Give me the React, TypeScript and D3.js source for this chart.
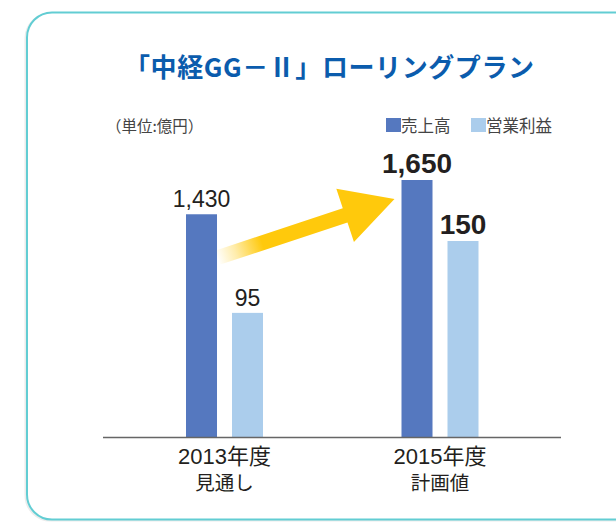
import React from "react";
import * as d3 from "d3";

const categories = ["2013", "2015"];
const categoryLine1 = ["2013年度", "2015年度"];
const categoryLine2 = ["見通し", "計画値"];
const seriesNames = ["売上高", "営業利益"];
const salesValues = [1430, 1650];
const profitValues = [95, 150];
const salesLabels = ["1,430", "1,650"];
const profitLabels = ["95", "150"];
const boldLabel = [false, true];

const W = 616;
const H = 522;
const baseY = 437;
const FONT = "'Liberation Sans', Arial, 'Noto Sans CJK JP', sans-serif";
const CJK = "'Noto Sans CJK JP', sans-serif";

export default function App() {
  const xGroup = d3.scalePoint<string>().domain(categories).range([224.5, 440]);
  const xInner = d3
    .scaleBand<string>()
    .domain(["sales", "profit"])
    .range([-38.5, 38.5])
    .paddingInner(0.326)
    .paddingOuter(0);
  const ySales = d3.scaleLinear().domain([0, 1650]).range([baseY, 180]);
  const yProfit = d3.scaleLinear().domain([0, 150]).range([baseY, 241]);
  const bw = xInner.bandwidth();
  const colSales = "#5578bf";
  const colProfit = "#abcdec";

  // arrow from 2013 sales bar to 2015 sales bar
  const sx = (xGroup("2013") as number) + (xInner("sales") as number) + bw + 1;
  const sy = 257.5;
  const tx = (xGroup("2015") as number) + (xInner("sales") as number) - 7;
  const ty = 199;
  const L = Math.hypot(tx - sx, ty - sy);
  const ux = (tx - sx) / L;
  const uy = (ty - sy) / L;
  const nx = -uy;
  const ny = ux;
  const shaftHW = 7.5;
  const headLen = 52;
  const headHW = 28;
  const bx = tx - headLen * ux;
  const by = ty - headLen * uy;
  const pts: [number, number][] = [
    [sx + shaftHW * nx, sy + shaftHW * ny],
    [bx + shaftHW * nx, by + shaftHW * ny],
    [bx + headHW * nx, by + headHW * ny],
    [tx, ty],
    [bx - headHW * nx, by - headHW * ny],
    [bx - shaftHW * nx, by - shaftHW * ny],
    [sx - shaftHW * nx, sy - shaftHW * ny],
  ];
  const arrowPath = d3.line()(pts) + "Z";

  return (
    <svg
      width={W}
      height={H}
      style={{ position: "absolute", left: 0, top: 0, background: "#fff" }}
    >
      <defs>
        <linearGradient
          id="arrowGrad"
          gradientUnits="userSpaceOnUse"
          x1={sx}
          y1={sy}
          x2={tx}
          y2={ty}
        >
          <stop offset="0" stopColor="#ffc90c" stopOpacity={0.02} />
          <stop offset="0.1" stopColor="#ffc90c" stopOpacity={0.35} />
          <stop offset="0.25" stopColor="#ffc90c" stopOpacity={1} />
          <stop offset="1" stopColor="#ffc90c" stopOpacity={1} />
        </linearGradient>
      </defs>

      {/* frame */}
      <rect x={25.5} y={13.5} width={640} height={507} rx={25} fill="none" stroke="#ececec" strokeWidth={2} />
      <rect x={27} y={12.5} width={640} height={507} rx={25} fill="#fff" stroke="#62cdd3" strokeWidth={2} />

      {/* title */}
      <text
        x={329}
        y={77}
        textAnchor="middle"
        fontFamily={CJK}
        fontWeight={700}
        fontSize={26}
        fill="#0b5cad"
        textLength={410}
        lengthAdjust="spacing"
      >
        「中経GG－Ⅱ」ローリングプラン
      </text>

      {/* unit */}
      <text x={106} y={132} fontFamily={CJK} fontSize={15.5} fill="#444">
        （単位:億円）
      </text>

      {/* legend */}
      <rect x={386} y={118} width={15} height={14} fill={colSales} />
      <text x={401} y={132} fontFamily={CJK} fontSize={16.5} fill="#444">
        {seriesNames[0]}
      </text>
      <rect x={471} y={118} width={15} height={14} fill={colProfit} />
      <text x={486} y={132} fontFamily={CJK} fontSize={16.5} fill="#444">
        {seriesNames[1]}
      </text>

      {/* bars */}
      {categories.map((c, i) => {
        const gx = xGroup(c) as number;
        const xs = gx + (xInner("sales") as number);
        const xp = gx + (xInner("profit") as number);
        return (
          <g key={c}>
            <rect x={xs} y={ySales(salesValues[i])} width={bw} height={baseY - ySales(salesValues[i])} fill={colSales} />
            <rect x={xp} y={yProfit(profitValues[i])} width={bw} height={baseY - yProfit(profitValues[i])} fill={colProfit} />
            <text
              x={xs + bw / 2}
              y={ySales(salesValues[i]) - 7}
              textAnchor="middle"
              fontFamily={FONT}
              fontWeight={boldLabel[i] ? 700 : 400}
              fontSize={boldLabel[i] ? 28 : 23}
              fill="#231f20"
            >
              {salesLabels[i]}
            </text>
            <text
              x={xp + bw / 2}
              y={yProfit(profitValues[i]) - 7}
              textAnchor="middle"
              fontFamily={FONT}
              fontWeight={boldLabel[i] ? 700 : 400}
              fontSize={boldLabel[i] ? 28 : 23}
              fill="#231f20"
            >
              {profitLabels[i]}
            </text>
            <text x={gx} y={464} textAnchor="middle" fontFamily={FONT} fontSize={22} fill="#231f20">
              {categoryLine1[i]}
            </text>
            <text x={gx} y={490} textAnchor="middle" fontFamily={CJK} fontSize={19.5} fill="#231f20">
              {categoryLine2[i]}
            </text>
          </g>
        );
      })}

      {/* axis */}
      <line x1={103} x2={561} y1={baseY + 0.5} y2={baseY + 0.5} stroke="#666" strokeWidth={1.5} />

      {/* arrow */}
      <path d={arrowPath} fill="url(#arrowGrad)" />
    </svg>
  );
}
